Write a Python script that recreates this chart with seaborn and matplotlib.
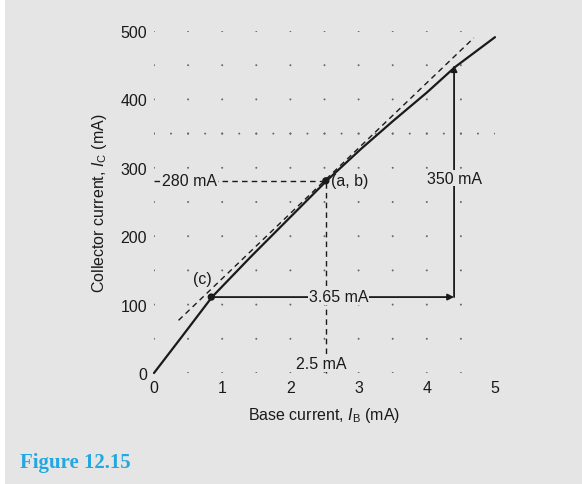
import numpy as np
import matplotlib
matplotlib.use("Agg")
import matplotlib.pyplot as plt
from matplotlib.patches import Rectangle
import seaborn as sns

# transfer characteristic
ib_ma = [0.0, 0.4, 0.85, 1.42, 2.0, 2.53, 3.04, 3.5, 4.0, 4.41, 5.0]
ic_ma = [0.0, 52, 111, 170, 228, 281, 328, 368, 410, 447, 491]

# tangent at the operating point (a, b)
tangent_x = [0.36, 4.69]
tangent_y = [77, 490]

point_ab = (2.52, 281)
point_c = (0.84, 111)
arrow_end_x = 4.40
arrow_top_y = 450

x_ticks = [0, 1, 2, 3, 4, 5]
y_ticks = [0, 100, 200, 300, 400, 500]

BG = "#e5e5e5"
INK = "#1a1a1a"
FS = 11.5

sns.set_theme(style="white", rc={"axes.facecolor": BG, "figure.facecolor": BG})
plt.rcParams["font.family"] = ["Liberation Sans", "DejaVu Sans"]
plt.rcParams["mathtext.fontset"] = "custom"
plt.rcParams["mathtext.rm"] = "Liberation Sans"
plt.rcParams["mathtext.it"] = "Liberation Sans:italic"

fig = plt.figure(figsize=(5.82, 4.85), dpi=100)
fig.patches.append(Rectangle((0, 0), 5 / 582, 1, transform=fig.transFigure,
                             facecolor="white", edgecolor="none", zorder=-1))
ax = fig.add_axes([154 / 582, 1 - 374 / 485, 341 / 582, 342 / 485])

# dotted background lattice
gx, gy = np.meshgrid(np.arange(0, 4.51, 0.5), np.arange(0, 501, 50))
sns.scatterplot(x=gx.ravel(), y=gy.ravel(), s=2, color="#666666",
                edgecolor="none", ax=ax, zorder=1)
row_x = np.arange(0, 5.01, 0.25)
sns.scatterplot(x=row_x, y=np.full(row_x.shape, 350), s=2, color="#666666",
                edgecolor="none", ax=ax, zorder=1)

# construction lines through (a, b)
ax.plot([0, point_ab[0]], [point_ab[1], point_ab[1]], ls=(0, (4, 3)), lw=1, color=INK, zorder=2)
ax.plot([point_ab[0], point_ab[0]], [0, point_ab[1]], ls=(0, (4, 3)), lw=1, color=INK, zorder=2)
ax.plot(tangent_x, tangent_y, ls=(0, (4, 3)), lw=1, color=INK, zorder=2, clip_on=False)

# characteristic
sns.lineplot(x=ib_ma, y=ic_ma, sort=False, estimator=None, color=INK, lw=1.6, ax=ax, zorder=3)
for ln in ax.lines:
    ln.set_clip_on(False)

sns.scatterplot(x=[point_ab[0], point_c[0]], y=[point_ab[1], point_c[1]], s=28,
                color=INK, edgecolor="none", ax=ax, zorder=4)

# delta arrows
ax.annotate("", xy=(arrow_end_x, point_c[1]), xytext=point_c,
            arrowprops=dict(arrowstyle="-|>", lw=1.3, color=INK, mutation_scale=9,
                            shrinkA=0, shrinkB=0), zorder=3)
ax.annotate("", xy=(arrow_end_x, arrow_top_y), xytext=(arrow_end_x, point_c[1]),
            arrowprops=dict(arrowstyle="-|>", lw=1.3, color=INK, mutation_scale=9,
                            shrinkA=0, shrinkB=0), zorder=3)

box = dict(facecolor=BG, edgecolor="none", pad=0.5)
ax.text(0.52, 281, "280 mA", ha="center", va="center", fontsize=FS, color=INK, bbox=box, zorder=5)
ax.text(2.45, 14, "2.5 mA", ha="center", va="center", fontsize=FS, color=INK, bbox=box, zorder=5)
ax.text(2.71, 112, "3.65 mA", ha="center", va="center", fontsize=FS, color=INK, bbox=box, zorder=5)
ax.text(4.40, 285, "350 mA", ha="center", va="center", fontsize=FS, color=INK, bbox=box, zorder=5)
ax.text(2.6, 281, "(a, b)", ha="left", va="center", fontsize=FS, color=INK, zorder=5)
ax.text(0.71, 138, "(c)", ha="center", va="center", fontsize=FS, color=INK, zorder=5)

ax.set_xlim(0, 5)
ax.set_ylim(0, 500)
ax.set_xticks(x_ticks)
ax.set_yticks(y_ticks)
ax.tick_params(length=0, pad=5, labelsize=FS, colors=INK)
sns.despine(ax=ax, left=True, bottom=True)
ax.set_xlabel(r"Base current, $\mathit{I}_{\mathrm{B}}$ (mA)", fontsize=FS, color=INK, labelpad=7)
ax.set_ylabel(r"Collector current, $\mathit{I}_{\mathrm{C}}$ (mA)", fontsize=FS, color=INK, labelpad=8)

fig.text(20 / 582, 1 - 463 / 485, "Figure 12.15", fontsize=15, fontweight="bold",
         family="Liberation Serif", color="#22a7e0", ha="left", va="center")

fig.savefig("out.png", dpi=100, facecolor=BG)
